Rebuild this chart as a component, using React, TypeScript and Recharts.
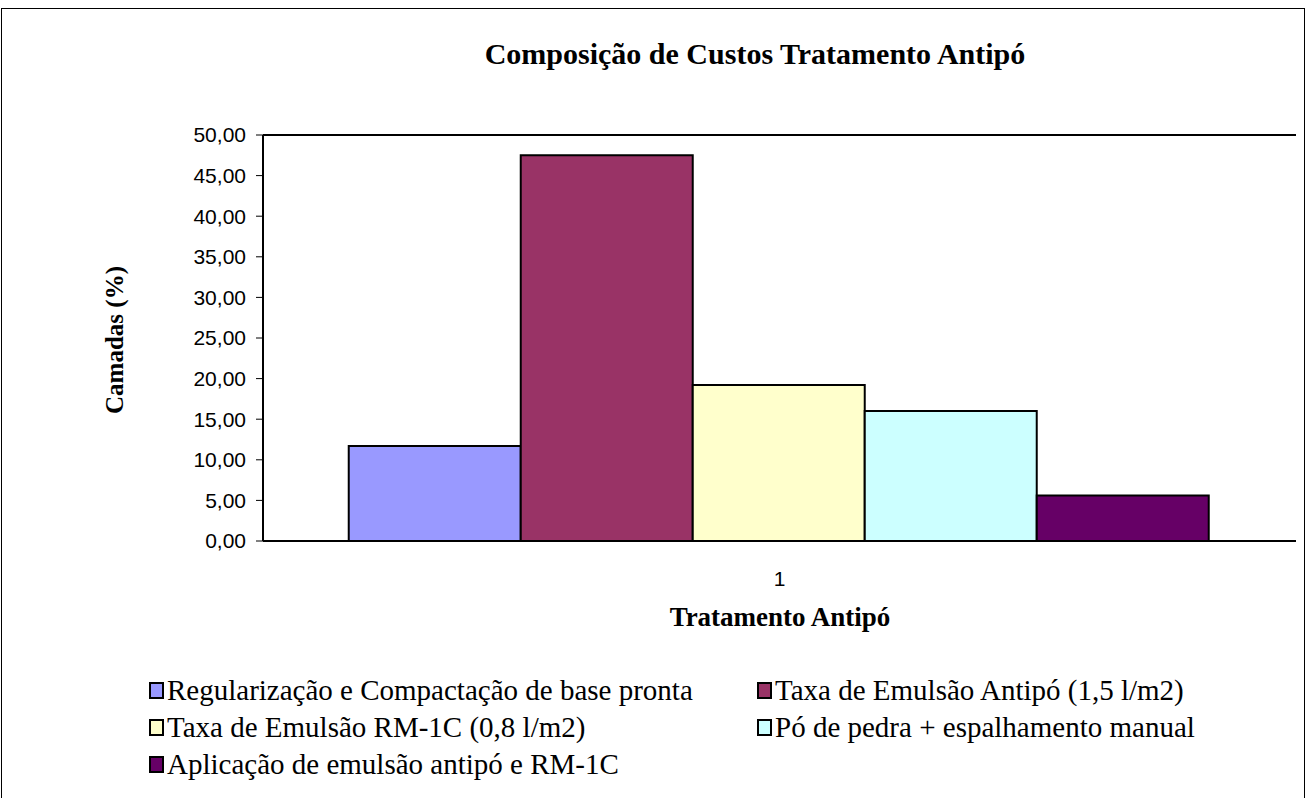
import React from "react";
import { BarChart, Bar, XAxis, YAxis, CartesianGrid, ReferenceLine } from "recharts";

const categories = ["1"];
const seriesNames = [
  "Regularização e Compactação de base pronta",
  "Taxa de Emulsão Antipó (1,5 l/m2)",
  "Taxa de Emulsão RM-1C (0,8 l/m2)",
  "Pó de pedra + espalhamento manual",
  "Aplicação de emulsão antipó e RM-1C",
];
const seriesValues = [11.7, 47.5, 19.2, 16.0, 5.6];
const seriesColors = ["#9999ff", "#993366", "#ffffcc", "#ccffff", "#660066"];
const yTicks = [0, 5, 10, 15, 20, 25, 30, 35, 40, 45, 50];

const data = categories.map((c) => {
  const row: Record<string, string | number> = { cat: c };
  seriesValues.forEach((v, i) => {
    row["s" + i] = v;
  });
  return row;
});

const serif = "'Liberation Serif', 'Times New Roman', serif";
const sans = "'Liberation Sans', Arial, sans-serif";

export default function App() {
  return (
    <div style={{ position: "absolute", left: 0, top: 0, width: 1306, height: 798, background: "#fff", overflow: "hidden" }}>
      <div
        style={{
          position: "absolute",
          left: 1,
          top: 8,
          width: 1302,
          height: 800,
          border: "1px solid #000",
        }}
      />
      <div style={{ position: "absolute", left: 0, top: 0 }}>
        <BarChart
          width={1306}
          height={798}
          data={data}
          margin={{ top: 135, right: 10, left: 193, bottom: 177 }}
          barCategoryGap="8.3%"
          barGap={0}
        >
          <CartesianGrid horizontal vertical={false} stroke="#222" strokeWidth={1} />
          <XAxis
            dataKey="cat"
            height={80}
            axisLine={{ stroke: "#000", strokeWidth: 2 }}
            tickLine={false}
            tickMargin={24}
            tick={{ fill: "#000", fontFamily: sans, fontSize: 21 }}
          />
          <YAxis
            yAxisId="left"
            width={70}
            domain={[0, 50]}
            ticks={yTicks}
            interval={0}
            tickFormatter={(v: number) => v.toFixed(2).replace(".", ",")}
            axisLine={{ stroke: "#000", strokeWidth: 2 }}
            tickLine={{ stroke: "#000" }}
            tickSize={7}
            tickMargin={10}
            tick={{ fill: "#000", fontFamily: sans, fontSize: 21 }}
          />
          <YAxis
            yAxisId="right"
            orientation="right"
            width={0}
            domain={[0, 50]}
            tick={false}
            tickLine={false}
            axisLine={{ stroke: "#000", strokeWidth: 1.5 }}
          />
          <ReferenceLine yAxisId="left" y={50} stroke="#000" strokeWidth={2} />
          {seriesNames.map((n, i) => (
            <Bar
              key={n}
              yAxisId="left"
              dataKey={"s" + i}
              name={n}
              fill={seriesColors[i]}
              stroke="#000"
              strokeWidth={2}
              isAnimationActive={false}
            />
          ))}
        </BarChart>
      </div>
      <div
        style={{
          position: "absolute",
          left: 0,
          width: 1510,
          top: 36,
          textAlign: "center",
          fontFamily: serif,
          fontWeight: "bold",
          fontSize: 30,
          lineHeight: "36px",
        }}
      >
        Composição de Custos Tratamento Antipó
      </div>
      <div
        style={{
          position: "absolute",
          left: 115,
          top: 340,
          transform: "translate(-50%, -50%) rotate(-90deg)",
          fontFamily: serif,
          fontWeight: "bold",
          fontSize: 25,
          whiteSpace: "nowrap",
        }}
      >
        Camadas (%)
      </div>
      <div
        style={{
          position: "absolute",
          left: 0,
          width: 1560,
          top: 601,
          textAlign: "center",
          fontFamily: serif,
          fontWeight: "bold",
          fontSize: 27,
          lineHeight: "32px",
        }}
      >
        Tratamento Antipó
      </div>
      <div
        style={{
          position: "absolute",
          left: 149,
          top: 672,
          display: "grid",
          gridTemplateColumns: "608px 540px",
          fontFamily: serif,
          fontSize: 29,
          color: "#000",
        }}
      >
        {seriesNames.map((n, i) => (
          <div key={n} style={{ display: "flex", alignItems: "center", height: 37, whiteSpace: "nowrap" }}>
            <span
              style={{
                width: 11,
                height: 13,
                background: seriesColors[i],
                border: "2px solid #000",
                marginRight: 3,
                display: "inline-block",
                flex: "none",
              }}
            />
            <span>{n}</span>
          </div>
        ))}
      </div>
    </div>
  );
}
